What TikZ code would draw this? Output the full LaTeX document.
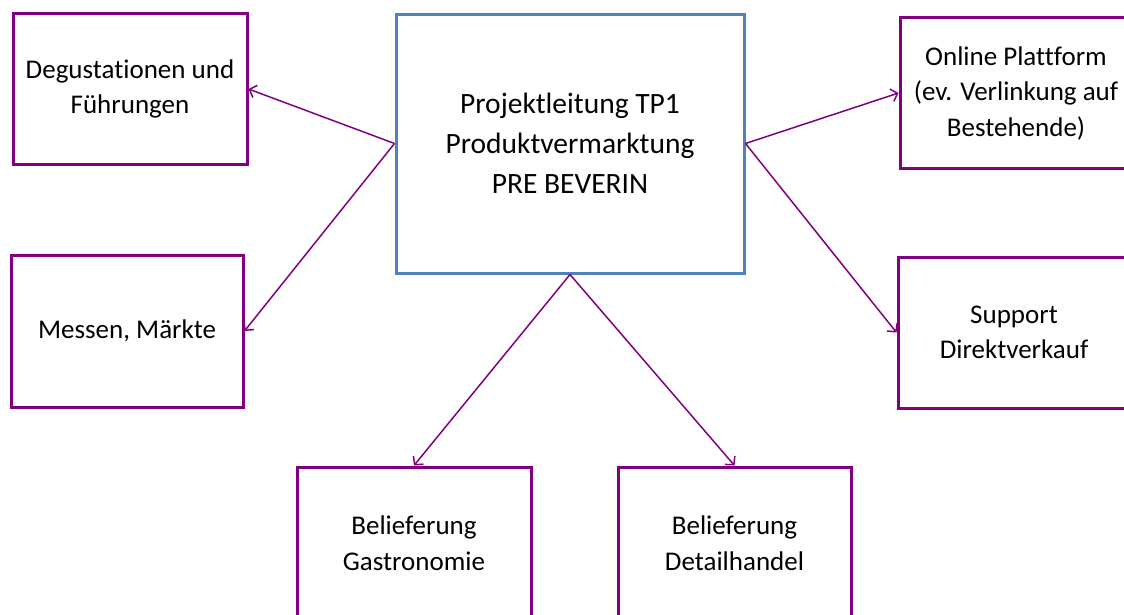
\documentclass[tikz,border=0pt]{standalone}
\usepackage{fontspec}
\setmainfont{Carlito}[Ligatures={NoCommon}]
\usetikzlibrary{arrows.meta}
\definecolor{boxpurple}{HTML}{800080}
\definecolor{boxblue}{HTML}{4F81BD}
\tikzset{
  sidebox/.style={draw=boxpurple, line width=3pt, align=center, inner sep=0pt,
    font=\fontsize{27}{35.5}\selectfont},
  mainbox/.style={draw=boxblue, line width=3pt, align=center, inner sep=0pt,
    font=\fontsize{29.5}{40}\selectfont},
  link/.style={draw=boxpurple, line width=1.5pt, -{Straight Barb[length=6pt,width=13pt]}}
}
\begin{document}
\begin{tikzpicture}[x=1pt,y=-1pt]
\fill[white] (0,0) rectangle (1124,614);
\useasboundingbox (0,0) rectangle (1124,614);
\clip (0,0) rectangle (1124,614);
\node[mainbox, minimum width=348pt, minimum height=259pt] (c) at (570,143.5)
  {Projektleitung TP1\\Produktvermarktung\\PRE BEVERIN};
\node[sidebox, minimum width=234pt, minimum height=151pt] (dg) at (130,89)
  {Degustationen und\\Führungen};
\node[sidebox, minimum width=232pt, minimum height=152pt] (mm) at (127,331)
  {Messen, Märkte};
\node[sidebox, minimum width=232pt, minimum height=151pt] (op) at (1016,93)
  {Online Plattform\\(ev. Verlinkung auf\\Bestehende)};
\node[sidebox, minimum width=232pt, minimum height=151pt] (sd) at (1014,332.5)
  {Support\\Direktverkauf};
\node[sidebox, minimum width=234pt, minimum height=152pt] (bg) at (414,543)
  {Belieferung\\Gastronomie};
\node[sidebox, minimum width=233pt, minimum height=152pt] (bd) at (734.5,543)
  {Belieferung\\Detailhandel};
\draw[link] (c.west) -- (dg.east);
\draw[link] (c.west) -- (mm.east);
\draw[link] (c.east) -- (op.west);
\draw[link] (c.east) -- (sd.west);
\draw[link] (c.south) -- (bg.north);
\draw[link] (c.south) -- (bd.north);
\end{tikzpicture}
\end{document}
